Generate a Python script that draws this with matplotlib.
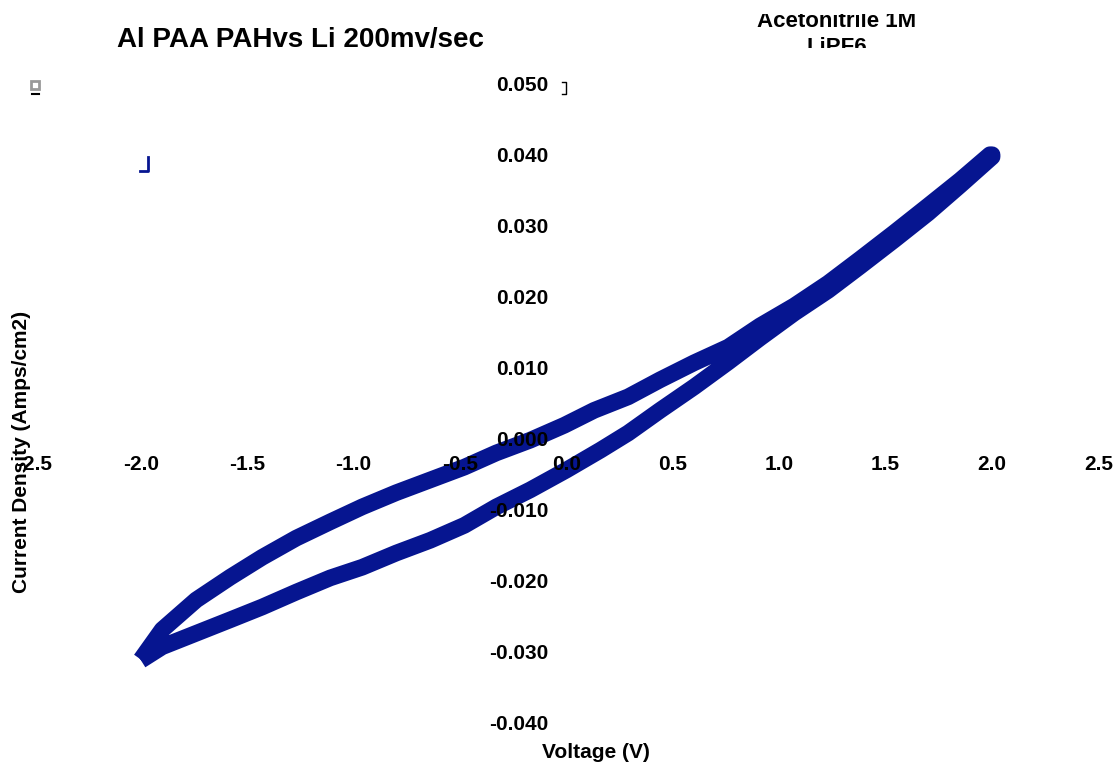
import matplotlib
matplotlib.use('Agg')
import matplotlib.pyplot as plt
from matplotlib.lines import Line2D
from matplotlib.transforms import Bbox

plt.rcParams['font.family'] = ['Liberation Sans', 'DejaVu Sans']
plt.rcParams['font.weight'] = 'bold'
plt.rcParams['axes.unicode_minus'] = False

# forward sweep -2 V -> +2 V
voltage_fwd = [-2.00, -1.90, -1.74, -1.58, -1.43, -1.27, -1.11, -0.96, -0.80, -0.64, -0.48, -0.33,
               -0.17, -0.01, 0.13, 0.29, 0.44, 0.60, 0.76, 0.91, 1.07, 1.23, 1.38, 1.54, 1.70,
               1.85, 1.99, 2.00]
current_fwd = [-0.0312, -0.0270, -0.0228, -0.0196, -0.0168, -0.0141, -0.0118, -0.0097, -0.0077,
               -0.0059, -0.0041, -0.0021, -0.0003, 0.0018, 0.0039, 0.0058, 0.0082, 0.0106, 0.0128,
               0.0158, 0.0186, 0.0218, 0.0252, 0.0289, 0.0327, 0.0363, 0.0399, 0.0399]

# reverse sweep +2 V -> -2 V
voltage_rev = [2.00, 1.85, 1.70, 1.54, 1.38, 1.23, 1.07, 0.91, 0.76, 0.60, 0.44, 0.29, 0.16,
               0.00, -0.17, -0.33, -0.48, -0.64, -0.80, -0.96, -1.11, -1.27, -1.43, -1.58,
               -1.74, -1.90, -2.00]
current_rev = [0.0396, 0.0356, 0.0317, 0.0279, 0.0242, 0.0208, 0.0176, 0.0141, 0.0107, 0.0072,
               0.0039, 0.0007, -0.0017, -0.0045, -0.0073, -0.0097, -0.0123, -0.0144, -0.0162,
               -0.0182, -0.0197, -0.0217, -0.0238, -0.0256, -0.0275, -0.0294, -0.0313]

x_ticks = [-2.5, -2.0, -1.5, -1.0, -0.5, 0.0, 0.5, 1.0, 1.5, 2.0, 2.5]
y_ticks = [-0.04, -0.03, -0.02, -0.01, 0.0, 0.01, 0.02, 0.03, 0.04, 0.05]

fig = plt.figure(figsize=(11.16, 7.63), dpi=100)
ax = fig.add_axes([0.0309, 0.0537, 0.9534, 0.8375])
ax.set_axisbelow(False)  # tick labels sit on top of the loop

v = voltage_fwd + voltage_rev
i = current_fwd + current_rev
ax.plot(v, i, color='#061590', lw=12, solid_joinstyle='round', solid_capstyle='butt')

ax.set_xlim(-2.5, 2.5)
ax.set_ylim(-0.04, 0.05)
ax.set_xticks(x_ticks)
ax.set_yticks(y_ticks)
ax.set_xticklabels(['%.1f' % t for t in x_ticks])
ax.set_yticklabels(['%.3f' % t for t in y_ticks])

for s in ['left', 'bottom']:
    ax.spines[s].set_position('zero')
    ax.spines[s].set_color('none')
for s in ['right', 'top']:
    ax.spines[s].set_visible(False)
ax.tick_params(axis='x', length=0, pad=12.5, labelsize=15)
ax.tick_params(axis='y', length=0, pad=13, labelsize=15)
for lab in ax.get_xticklabels() + ax.get_yticklabels():
    lab.set_fontweight('bold')

fig.text(0.269, 0.947, 'Al PAA PAHvs Li 200mv/sec', fontsize=20, fontweight='bold',
         ha='center', va='center')

# the subtitle box is cut off at its top and bottom
clip = Bbox.from_extents(700, 763 - 48, 1000, 763 - 14)
for txt, yb in [('Acetonitrile 1M', 1 - 27 / 763), ('LiPF6', 1 - 53 / 763)]:
    t = fig.text(0.75, yb, txt, fontsize=16, fontweight='bold', ha='center', va='baseline')
    t.set_clip_box(clip)
    t.set_clip_on(True)

fig.text(0.534, 0.014, 'Voltage (V)', fontsize=15, fontweight='bold', ha='center', va='center')
fig.text(0.0195, 0.408, 'Current Density (Amps/cm2)', fontsize=15, fontweight='bold',
         ha='center', va='center', rotation=90)

# leftover legend bits
fig.add_artist(Line2D([35 / 1116], [1 - 85 / 763], marker='s', ms=6, mfc='white', mec='#999999',
                      mew=2, transform=fig.transFigure))
fig.add_artist(Line2D([32 / 1116, 39 / 1116], [1 - 94 / 763] * 2, color='black', lw=1.5,
                      transform=fig.transFigure))
fig.add_artist(Line2D([140 / 1116, 148 / 1116, 148 / 1116], [1 - 171 / 763, 1 - 171 / 763, 1 - 157 / 763],
                      color='#061590', lw=2, transform=fig.transFigure))
fig.add_artist(Line2D([562 / 1116, 566 / 1116, 566 / 1116, 562 / 1116],
                      [1 - 82 / 763, 1 - 82 / 763, 1 - 94 / 763, 1 - 94 / 763],
                      color='black', lw=1, transform=fig.transFigure))

fig.savefig('out.png', dpi=100)
